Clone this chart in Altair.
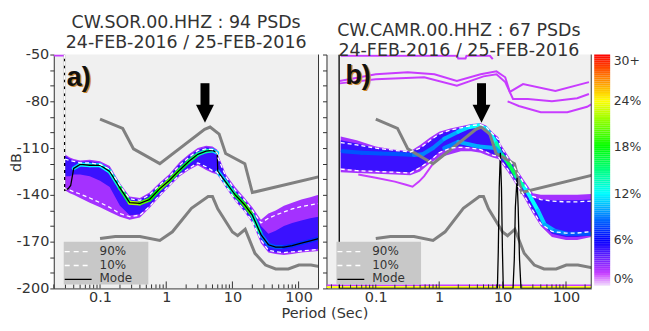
import altair as alt
import pandas as pd

FONT = "DejaVu Sans"
TXT = "#333333"
W, H = 266, 235
YDOM = [-200, -50]

# ---------------- Peterson noise models (grey lines) ----------------
nhnm_P = [0.1, 0.22, 0.32, 0.8, 3.8, 4.6, 6.3, 7.9, 15.4, 20.0, 354.8]
nhnm_dB = [-91.5, -97.4, -110.5, -120.0, -98.0, -96.5, -101.0, -113.5, -120.0, -138.5, -126.0]
nlnm_P = [0.1, 0.17, 0.4, 0.8, 1.24, 2.4, 4.3, 5.0, 6.0, 10.0, 12.0, 15.6, 21.9, 31.6, 45.0, 70.0, 101.0, 154.0, 328.0]
nlnm_dB = [-168.0, -166.7, -166.7, -169.2, -163.7, -148.6, -141.1, -141.1, -149.0, -163.8, -166.2, -162.1,
           -177.5, -185.0, -187.5, -187.5, -185.0, -185.0, -187.5]

# ---------------- colour bar ----------------
cb_values = [0, 6, 12, 18, 24, 30]
c_domain = [0, 1.5, 6, 12, 18, 24, 30]
c_range = ["#f2dcff", "#c83cff", "#0000ff", "#00ffff", "#00ff00", "#ffff00", "#ff0000"]
p_outer = 2.3
p_inner = 4.7
p_stray = 1.5

x_label_values = [0.1, 1, 10, 100]
y_tick_values = list(range(-200, -49, 10))

# ---------------- panel a : CW.SOR.00.HHZ ----------------
a_title = ["CW.SOR.00.HHZ : 94 PSDs", "24-FEB-2016 / 25-FEB-2016"]
a_xdom = [0.02, 200]
a_P = [0.029, 0.0292, 0.035, 0.04, 0.05, 0.07, 0.1, 0.14, 0.2, 0.28, 0.4, 0.56, 0.8, 1.1, 1.6, 2.2, 3.0,
       4.0, 5.0, 5.9, 6.0, 8, 11, 15, 20, 27, 35, 45, 60, 80, 110, 150, 200]
a_hi = [-114, -114, -116, -117, -118, -117.5, -118.5, -121.5, -132.5, -141, -142, -138.5, -132, -127, -119,
        -114, -110, -108.5, -109, -111, -114, -127, -135, -141.5, -148, -156, -152, -150, -147, -145, -143,
        -141.5, -140]
a_lo = [-137, -137, -139, -140, -142, -145, -148, -151, -154, -156, -154.5, -148.5, -141, -135, -128, -124,
        -121, -124, -126, -127, -127.5, -135.5, -144, -150.5, -158, -171, -177, -178, -178.5, -178, -177,
        -176.5, -176]
a_in_hi = [-115, -115, -117, -118, -119, -118.5, -119.5, -123, -133.5, -142, -143, -139.5, -133, -128, -120,
           -115, -111, -109.5, -110, -112, -115, -128.5, -136.5, -143, -149.5, -160, -165, -163, -160, -158,
           -156.5, -155, -154]
a_in_lo = [-128, -128, -128, -127, -127, -128, -131, -135, -147, -153, -152.5, -147, -140, -134, -127, -123,
           -120, -123, -125, -126, -126.5, -135, -143, -150, -157, -169, -176, -177, -177, -176.5, -176, -175,
           -174.5]
a_p90 = [-50, -117, -118, -118.5, -119.5, -119.5, -120.5, -123.5, -134, -142.5, -143.5, -140, -133.5, -128.5,
         -121, -116, -111.5, -110.5, -111, -113, -116, -128.5, -137, -143, -150, -158, -155, -153, -151, -149,
         -147.5, -146.5, -145.5]
a_p10 = [-50, -136, -137, -138, -139.5, -142, -145, -148, -152, -154, -153, -147.5, -140, -134, -127, -123,
         -119.5, -122, -124.5, -125.5, -126, -134.5, -143, -149.5, -157, -169, -175.5, -176.5, -177, -176.5,
         -176, -175.5, -175]
a_mode_P = [0.029, 0.0292, 0.033, 0.036, 0.04, 0.05, 0.07, 0.1, 0.14, 0.2, 0.28, 0.4, 0.56, 0.8, 1.1, 1.6,
            2.2, 3.0, 4.0, 5.0, 5.9, 6.0, 8, 11, 15, 20, 27, 35, 45, 60, 80, 110, 150, 200]
a_mode_dB = [-50, -137, -136, -134, -123, -120.5, -121, -121, -125, -135.5, -145, -145.5, -143, -136, -131,
             -124, -118.5, -114, -112, -111.5, -113, -125, -132, -140, -146, -153, -165.5, -172, -173.5,
             -173.5, -172.5, -171, -169.5, -168]
a_ridge_P = a_mode_P[4:]
a_ridge_dB = a_mode_dB[4:]
a_ridge_p = [11, 12, 12, 12, 13, 16, 22, 20, 18, 20, 19, 17, 16, 14, 14, 11, 0, 11, 14, 17, 19, 14, 9, 8, 8,
             7, 7, 7, 7]
a_strays = [([0.02, 0.029], [-50.6, -50.6])]
a_arrow_P = 3.85

# ---------------- panel b : CW.CAMR.00.HHZ ----------------
b_title = ["CW.CAMR.00.HHZ : 67 PSDs", "24-FEB-2016 / 25-FEB-2016"]
b_xdom = [0.0167, 250]
b_P = [0.028, 0.05, 0.1, 0.2, 0.35, 0.5, 0.7, 1.0, 1.5, 2.2, 3.2, 4.5, 5.5, 7.0, 8.6, 9.2, 12, 15.5, 17, 22,
       30, 40, 60, 100, 150, 250]
b_hi = [-102.5, -105, -109, -111, -112, -108, -103.5, -99.5, -97.5, -96, -94.5, -94, -95.5, -100, -103, -107,
        -114.5, -121, -124, -131, -139, -140, -140, -140, -140, -139.5]
b_lo = [-125.5, -126, -126.5, -127, -127.5, -125, -120, -116, -114, -112, -112, -113, -114.5, -116, -117, -119,
        -125, -132, -135, -142, -152, -160, -167, -169, -169, -167]
b_in_hi = [-105, -107, -110, -111.5, -112.5, -110, -106, -101, -98.5, -97, -95.5, -95, -96.5, -101, -104.5,
           -108.5, -116, -122.5, -125.5, -133, -142, -143, -143.5, -143.5, -143.5, -143]
b_in_lo = [-123, -124, -124.5, -125, -125.5, -122, -118, -112.5, -109.5, -109, -109.5, -110.5, -112, -114,
           -115, -117, -123, -130, -133, -140, -150, -158, -165, -167, -167, -166]
b_p90 = [-106.5, -108, -110, -111.5, -112.5, -110, -105.5, -101, -98.5, -97, -95.5, -95, -96.5, -101, -104.5,
         -108.5, -116, -122.5, -125.5, -133, -141, -143, -144, -144.5, -144.5, -144]
b_p10 = [-123.5, -124.5, -125, -125.5, -126, -122.5, -118.5, -113, -110, -109.5, -110, -111, -112.5, -114.5,
         -115.5, -117.5, -123.5, -130.5, -133.5, -140.5, -150, -158.5, -163.5, -164.5, -164.5, -163.5]
b_mode_P = [0.0264, 0.0266, 8.28, 8.55, 8.85, 9.22, 9.6, 9.95, 10.26, 14.6, 15.3, 15.9, 16.9, 17.6, 18.5,
            19.5, 250]
b_mode_dB = [-50, -200, -200, -176.5, -135.5, -113, -135.5, -176.5, -200, -200, -181.5, -148, -129, -148,
             -181.5, -200, -200]
b_ridge1_P = [0.03, 0.06, 0.12, 0.25, 0.4, 0.55, 0.8, 1.2, 2.0, 3.0, 4.2, 5.5, 6.7, 8.0, 9.2, 12.3, 16.3,
              22.5, 28, 36, 46, 66, 105, 245]
b_ridge1_dB = [-112, -113, -113.5, -114, -114.5, -114, -110, -104, -99.5, -96.5, -95.5, -97.5, -102, -107,
               -113, -119.5, -128, -135.5, -142, -150, -159, -163, -165, -165]
b_ridge1_p = [8, 8, 8, 8, 9, 9, 9, 10, 11, 12, 12, 11, 12, 14, 15, 16, 14, 12, 12, 11, 10, 9, 8]
b_ridge2_P = [1.2, 2.0, 4.2, 7.7, 9.2]
b_ridge2_dB = [-110, -106, -109, -110, -113]
b_ridge2_p = [9, 10, 10, 10]
b_strays = [
    ([0.028, 1.9, 2.0, 2.6, 2.7, 6.3, 7.0], [-50.8, -50.8, -52.5, -52.5, -50.8, -50.8, -53]),
    ([0.027, 0.1, 0.32, 0.84, 1.9, 4.5, 8.0, 11, 13, 21, 68, 230],
     [-67, -62.7, -61.4, -62.7, -67, -62.7, -60.8, -64.6, -74, -69, -73.4, -67.7]),
    ([0.027, 0.1, 0.58, 1.9, 5.0, 8.0, 11, 14.6, 25, 60, 150, 230],
     [-68.5, -65.8, -64.6, -70, -64, -62.7, -67.7, -78.5, -78.5, -80, -78, -75.3]),
    ([12, 18, 40, 105, 215, 250], [-80, -83, -87, -87, -83.5, -82]),
    ([0.053, 0.1, 0.2, 0.3, 0.38, 0.48, 0.58, 0.8, 1.2], [-127, -129, -131.5, -133.5, -134.8, -131.5, -128, -120, -114]),
]
b_bottom_dB = [-198, -199.2]
b_bottom_p = [1.5, 24]
b_arrow_P = 4.65

arrow_top_dB, arrow_bot_dB, arrow_head_dB = -68.4, -83.5, -88.0


def X(field, xdom):
    return alt.X(f"{field}:Q", scale=alt.Scale(type="log", domain=xdom, nice=False),
                 axis=alt.Axis(values=x_label_values, format="~g", ticks=False, grid=False, labelFont=FONT,
                               labelFontSize=14.5, labelColor=TXT, labelPadding=2, domainColor=TXT,
                               title=None, labelFlush=False, labelOverlap=False))


def Y(field, show):
    kw = dict(values=y_tick_values, tickSize=4, tickColor=TXT, domainColor=TXT, grid=False, labelOverlap=False)
    if show:
        kw.update(labelExpr="(datum.value + 200) % 30 == 0 ? '-' + format(abs(datum.value), 'd') : ''",
                  labelFont=FONT, labelFontSize=14.5, labelColor=TXT, labelPadding=1,
                  title="dB", titleX=-37, titleY=108, titleAngle=270, titleAlign="center",
                  titleBaseline="middle", titleFont=FONT, titleFontSize=14.5, titleFontWeight="normal",
                  titleColor=TXT)
    else:
        kw.update(labels=False, title=None)
    return alt.Y(f"{field}:Q", scale=alt.Scale(domain=YDOM, nice=False, zero=False), axis=alt.Axis(**kw))


def cscale():
    return alt.Scale(domain=c_domain, range=c_range, interpolate="rgb", clamp=True)


def F(field):
    return alt.Fill(f"{field}:Q", scale=cscale(), legend=None)


def S(field):
    return alt.Stroke(f"{field}:Q", scale=cscale(), legend=None)


def title_params(text, color=TXT):
    return alt.TitleParams(text=text, anchor="middle", frame="group", font=FONT, fontSize=17.5,
                           fontWeight="normal", color=color, lineHeight=20, offset=-5)


def seg_rows(series):
    rows = []
    sid = 0
    for P, dB, pp in series:
        for k in range(len(P) - 1):
            if pp[k] > 0:
                rows.append(dict(seg=sid, i=0, P=P[k], dB=dB[k], p=pp[k]))
                rows.append(dict(seg=sid, i=1, P=P[k + 1], dB=dB[k + 1], p=pp[k]))
                sid += 1
    return pd.DataFrame(rows)


def panel(xdom, P, hi, lo, in_hi, in_lo, p90, p10, mode_P, mode_dB, ridges, strays, arrow_P, label,
          label_x, label_y, title, show, bottom=None):
    one = pd.DataFrame({"k": [0]})
    band = pd.DataFrame(dict(P=P, hi=hi, lo=lo, in_hi=in_hi, in_lo=in_lo, p90=p90, p10=p10))
    band["p_out"] = p_outer
    band["p_in"] = p_inner
    band["i"] = range(len(band))
    L = []
    L.append(alt.Chart(band).mark_area(clip=True).encode(
        x=X("P", xdom), y=Y("hi", show), y2=alt.Y2("lo"), fill=F("p_out")))
    L.append(alt.Chart(band).mark_area(clip=True).encode(
        x=X("P", xdom), y=Y("in_hi", show), y2=alt.Y2("in_lo"), fill=F("p_in")))
    srows = []
    for s, (sp, sd) in enumerate(strays):
        for i, (pv, dv) in enumerate(zip(sp, sd)):
            srows.append(dict(s=s, i=i, P=pv, dB=dv, p=p_stray))
    L.append(alt.Chart(pd.DataFrame(srows)).mark_line(clip=True, strokeWidth=2).encode(
        x=X("P", xdom), y=Y("dB", show), stroke=S("p"), detail="s:N", order="i:Q"))
    if bottom is not None:
        bdf = pd.DataFrame(dict(dB=bottom[0], p=bottom[1]))
        L.append(alt.Chart(bdf).mark_rule(clip=True, strokeWidth=1.6).encode(
            y=Y("dB", show), stroke=S("p")))
    L.append(alt.Chart(seg_rows(ridges)).mark_line(clip=True, strokeWidth=4, strokeCap="round").encode(
        x=X("P", xdom), y=Y("dB", show), stroke=S("p"), detail="seg:N", order="i:Q"))
    nm = pd.concat([pd.DataFrame(dict(m="hi", i=range(len(nhnm_P)), P=nhnm_P, dB=nhnm_dB)),
                    pd.DataFrame(dict(m="lo", i=range(len(nlnm_P)), P=nlnm_P, dB=nlnm_dB))])
    L.append(alt.Chart(nm).mark_line(clip=True, color="#808080", strokeWidth=3).encode(
        x=X("P", xdom), y=Y("dB", show), detail="m:N", order="i:Q"))
    mdf = pd.DataFrame(dict(P=mode_P, dB=mode_dB, i=range(len(mode_P))))
    L.append(alt.Chart(mdf).mark_line(clip=True, color="black", strokeWidth=1.3).encode(
        x=X("P", xdom), y=Y("dB", show), order="i:Q"))
    for col in ["p90", "p10"]:
        L.append(alt.Chart(band).mark_line(clip=True, color="white", strokeDash=[4, 3], strokeWidth=1.3).encode(
            x=X("P", xdom), y=Y(col, show), order="i:Q"))
    # inward ticks of the log period axis
    ticks = [m * 10.0 ** e for e in range(-2, 3) for m in range(1, 10)]
    ticks = [t for t in ticks if xdom[0] * 0.999 <= t <= xdom[1] * 1.001]
    major = [t for t in ticks if any(abs(t - v) < 1e-9 * v for v in x_label_values)]
    minor = [t for t in ticks if t not in major]
    L.append(alt.Chart(pd.DataFrame({"t": minor})).mark_rule(color=TXT, strokeWidth=1).encode(
        x=X("t", xdom), y=alt.value(H), y2=alt.value(H - 4)))
    L.append(alt.Chart(pd.DataFrame({"t": major})).mark_rule(color=TXT, strokeWidth=1).encode(
        x=X("t", xdom), y=alt.value(H), y2=alt.value(H - 7)))
    # arrow
    adf = pd.DataFrame(dict(P=[arrow_P], top=[arrow_top_dB], bot=[arrow_bot_dB], head=[arrow_head_dB]))
    L.append(alt.Chart(adf).mark_rule(color="black", strokeWidth=9).encode(
        x=X("P", xdom), y=Y("top", show), y2=alt.Y2("bot")))
    L.append(alt.Chart(adf).mark_point(shape="M-1,-1L1,-1L0,1Z", size=324, filled=True, color="black",
                                       opacity=1, strokeWidth=0).encode(x=X("P", xdom), y=Y("head", show)))
    # right frame line
    L.append(alt.Chart(one).mark_rule(color=TXT, strokeWidth=1).encode(
        x=alt.value(W), y=alt.value(0), y2=alt.value(H)))
    # legend box
    L.append(alt.Chart(one).mark_rect(color="#c8c8c8").encode(
        x=alt.value(10), x2=alt.value(95), y=alt.value(H - 47), y2=alt.value(H - 4)))
    for dy, txt, col, dash in [(38, "90%", "white", [5, 4]), (24, "10%", "white", [5, 4]),
                               (10, "Mode", "black", [1, 0])]:
        L.append(alt.Chart(one).mark_rule(color=col, strokeWidth=1.3, strokeDash=dash).encode(
            x=alt.value(11), x2=alt.value(38), y=alt.value(H - dy + 1)))
        L.append(alt.Chart(one).mark_text(align="left", baseline="middle", font=FONT, fontSize=12,
                                          color=TXT).encode(x=alt.value(46), y=alt.value(H - dy),
                                                            text=alt.value(txt)))
    # panel label with orange shadow
    L.append(alt.Chart(one).mark_text(align="left", baseline="alphabetic", font="Liberation Sans",
                                      fontSize=27, fontWeight="bold", color="#d08a30").encode(
        x=alt.value(label_x + 1.5), y=alt.value(label_y + 0.5), text=alt.value(label)))
    L.append(alt.Chart(one).mark_text(align="left", baseline="alphabetic", font="Liberation Sans",
                                      fontSize=27, fontWeight="bold", color="#111111").encode(
        x=alt.value(label_x), y=alt.value(label_y), text=alt.value(label)))
    return alt.layer(*L).properties(width=W, height=H, title=title_params(title))


pa = panel(a_xdom, a_P, a_hi, a_lo, a_in_hi, a_in_lo, a_p90, a_p10, a_mode_P, a_mode_dB,
           [(a_ridge_P, a_ridge_dB, a_ridge_p)], a_strays, a_arrow_P, "a)", 13, 32, a_title, True)
pb = panel(b_xdom, b_P, b_hi, b_lo, b_in_hi, b_in_lo, b_p90, b_p10, b_mode_P, b_mode_dB,
           [(b_ridge1_P, b_ridge1_dB, b_ridge1_p), (b_ridge2_P, b_ridge2_dB, b_ridge2_p)], b_strays,
           b_arrow_P, "b)", 19, 30, b_title, False, bottom=(b_bottom_dB, b_bottom_p))

# colour bar: a ramp of thin cells through the same colour scale
cb_step = 0.25
cb_lo = [k * cb_step for k in range(int(30 / cb_step))]
cbdf = pd.DataFrame({"v0": cb_lo, "v1": [v + cb_step for v in cb_lo], "vm": [v + cb_step / 2 for v in cb_lo]})
colorbar = alt.Chart(cbdf).mark_rect().encode(
    x=alt.value(0), x2=alt.value(16),
    y=alt.Y("v0:Q", scale=alt.Scale(domain=[0, 30], nice=False, zero=False),
            axis=alt.Axis(orient="right", values=cb_values, ticks=False, domain=False, grid=False,
                          labelExpr="datum.value == 30 ? '30+' : datum.value + '%'", labelFont=FONT,
                          labelFontSize=12.5, labelColor=TXT, labelPadding=3, labelFlush=True,
                          labelOverlap=False, title=None)),
    y2="v1:Q",
    fill=F("vm"),
).properties(width=16, height=H - 3, title=title_params(["x", "x"], "rgba(0,0,0,0)"))

chart = alt.hconcat(pa, pb, colorbar, spacing=2).resolve_scale(
    fill="independent", stroke="independent").properties(
    title=alt.TitleParams("Period (Sec)", orient="bottom", anchor="middle", font=FONT, fontSize=14.5,
                          fontWeight="normal", color=TXT, offset=3),
    padding={"left": 1, "top": 5, "right": 0, "bottom": 0},
).configure_view(fill="#f0f0f0", stroke=None)

chart.save("out.html", embed_options={"renderer": "svg", "actions": False})
